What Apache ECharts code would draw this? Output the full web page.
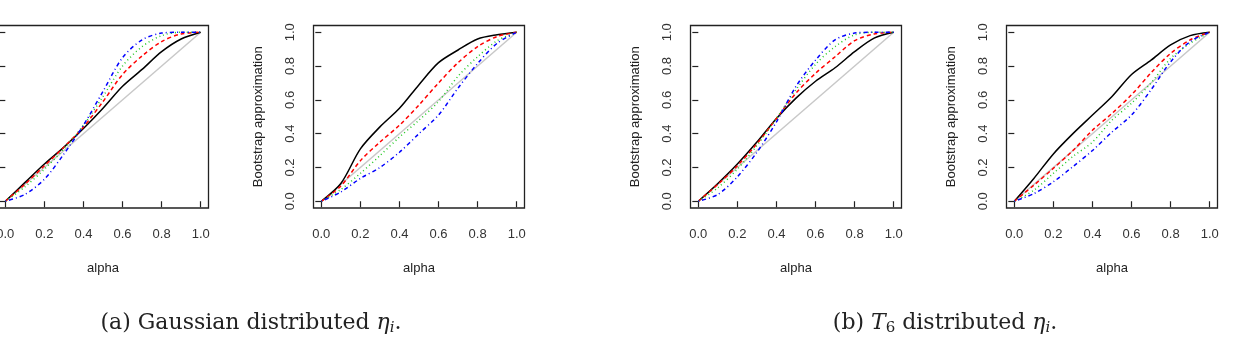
<!DOCTYPE html>
<html>
<head>
<meta charset="utf-8">
<script src="https://cdn.jsdelivr.net/npm/echarts@6/dist/echarts.min.js"></script>
<style>
  html, body { margin: 0; padding: 0; background: #fff; }
  #chart { width: 1236px; height: 338px; }
</style>
</head>
<body>
<div id="chart"></div>
<script>
// alpha grid shared by every panel
const alpha = [0, 0.1, 0.2, 0.3, 0.4, 0.5, 0.6, 0.7, 0.8, 0.9, 1]
const tickValues = [0, 0.2, 0.4, 0.6, 0.8, 1]
const diagonal = [0, 1]

// (a) Gaussian, left panel
const gaussA_black = [0, 0.11, 0.22, 0.32, 0.43, 0.55, 0.68, 0.78, 0.885, 0.96, 1]
const gaussA_red = [0, 0.10, 0.21, 0.32, 0.44, 0.59, 0.75, 0.86, 0.945, 0.99, 1]
const gaussA_green = [0, 0.085, 0.19, 0.31, 0.45, 0.62, 0.80, 0.915, 0.98, 1, 1]
const gaussA_blue = [0, 0.04, 0.13, 0.28, 0.45, 0.65, 0.85, 0.955, 0.995, 1, 1]

// (a) Gaussian, right panel
const gaussB_black = [0, 0.105, 0.31, 0.44, 0.55, 0.69, 0.82, 0.895, 0.96, 0.985, 1]
const gaussB_red = [0, 0.09, 0.24, 0.35, 0.45, 0.57, 0.70, 0.82, 0.915, 0.975, 1]
const gaussB_green = [0, 0.07, 0.165, 0.27, 0.38, 0.48, 0.59, 0.74, 0.855, 0.95, 1]
const gaussB_blue = [0, 0.055, 0.135, 0.20, 0.29, 0.40, 0.51, 0.67, 0.815, 0.935, 1]

// (b) T6, left panel
const tA_black = [0, 0.105, 0.22, 0.35, 0.49, 0.61, 0.71, 0.79, 0.885, 0.965, 1]
const tA_red = [0, 0.10, 0.21, 0.34, 0.49, 0.64, 0.757, 0.855, 0.95, 0.99, 1]
const tA_green = [0, 0.08, 0.19, 0.33, 0.49, 0.66, 0.81, 0.915, 0.985, 1, 1]
const tA_blue = [0, 0.04, 0.145, 0.29, 0.47, 0.68, 0.835, 0.955, 0.995, 1, 1]

// (b) T6, right panel
const tB_black = [0, 0.135, 0.28, 0.40, 0.51, 0.62, 0.75, 0.835, 0.925, 0.98, 1]
const tB_red = [0, 0.095, 0.195, 0.30, 0.42, 0.52, 0.63, 0.76, 0.875, 0.955, 1]
const tB_green = [0, 0.065, 0.165, 0.265, 0.35, 0.48, 0.58, 0.70, 0.845, 0.935, 1]
const tB_blue = [0, 0.045, 0.115, 0.205, 0.30, 0.41, 0.51, 0.66, 0.825, 0.945, 1]

const panels = [
  [gaussA_black, gaussA_red, gaussA_green, gaussA_blue],
  [gaussB_black, gaussB_red, gaussB_green, gaussB_blue],
  [tA_black, tA_red, tA_green, tA_blue],
  [tB_black, tB_red, tB_green, tB_blue]
]

const panelLeft = [-2.5, 313.5, 690.5, 1006.5]
const lineStyles = [
  { color: '#000000', width: 1.5, type: 'solid' },
  { color: '#ff0000', width: 1.5, type: [4, 3] },
  { color: '#22c822', width: 1.5, type: [1, 3] },
  { color: '#0000ff', width: 1.5, type: [1, 3, 4, 3] }
]

const sansFont = 'Liberation Sans, Arial, sans-serif'

const grids = []
const xAxes = []
const yAxes = []
const series = []

panels.forEach((curves, i) => {
  grids.push({
    left: panelLeft[i],
    top: 25.5,
    width: 211,
    height: 182.5,
    containLabel: false,
    outerBoundsMode: 'none',
    show: true,
    borderColor: '#222',
    borderWidth: 1.3,
    backgroundColor: 'transparent'
  })
  xAxes.push({
    gridIndex: i,
    type: 'value',
    min: -0.04,
    max: 1.04,
    axisLine: { show: false },
    splitLine: { show: false },
    axisTick: { show: true, length: 6, customValues: tickValues, lineStyle: { color: '#222', width: 1.2 } },
    axisLabel: {
      customValues: tickValues,
      formatter: (v) => v.toFixed(1),
      margin: 20,
      fontSize: 13,
      color: '#333',
      fontFamily: sansFont
    },
    name: 'alpha',
    nameLocation: 'middle',
    nameGap: 54,
    nameTextStyle: { fontSize: 13, color: '#222', fontFamily: sansFont }
  })
  yAxes.push({
    gridIndex: i,
    type: 'value',
    min: -0.04,
    max: 1.04,
    axisLine: { show: false },
    splitLine: { show: false },
    axisTick: { show: true, length: 6, customValues: tickValues, lineStyle: { color: '#222', width: 1.2 } },
    axisLabel: {
      customValues: tickValues,
      formatter: (v) => v.toFixed(1),
      rotate: 90,
      margin: 17,
      fontSize: 13,
      color: '#333',
      fontFamily: sansFont
    },
    name: 'Bootstrap approximation',
    nameLocation: 'middle',
    nameGap: 49,
    nameTextStyle: { fontSize: 13, color: '#222', fontFamily: sansFont }
  })

  // grey 45 degree reference
  series.push({
    type: 'line',
    xAxisIndex: i,
    yAxisIndex: i,
    data: diagonal.map((v) => [v, v]),
    showSymbol: false,
    silent: true,
    lineStyle: { color: '#c8c8c8', width: 1.5 }
  })
  curves.forEach((vals, k) => {
    series.push({
      type: 'line',
      xAxisIndex: i,
      yAxisIndex: i,
      data: alpha.map((a, j) => [a, vals[j]]),
      showSymbol: false,
      smooth: 0.3,
      silent: true,
      lineStyle: lineStyles[k]
    })
  })
})

const serifFont = 'DejaVu Serif, Liberation Serif, serif'
const captionRich = {
  n: { fontSize: 22, fontFamily: serifFont, fontWeight: 'normal', color: '#222' },
  it: { fontSize: 22, fontFamily: serifFont, fontWeight: 'normal', fontStyle: 'italic', color: '#222' },
  sub: { fontSize: 15, fontFamily: serifFont, fontWeight: 'normal', fontStyle: 'italic', color: '#222', padding: [10, 0, 0, 0] },
  subn: { fontSize: 15, fontFamily: serifFont, fontWeight: 'normal', color: '#222', padding: [10, 0, 0, 0] }
}

const myChart = echarts.init(document.getElementById('chart'), null, { renderer: 'canvas' })
const option = {
  animation: false,
  backgroundColor: '#fff',
  title: [
    {
      text: '{n|(a) Gaussian distributed }{it|η}{sub|i}{n|.}',
      left: 246,
      top: 306,
      textAlign: 'center',
      textStyle: { fontWeight: 'normal', rich: captionRich }
    },
    {
      text: '{n|(b) }{it|T}{subn|6}{n| distributed }{it|η}{sub|i}{n|.}',
      left: 940,
      top: 306,
      textAlign: 'center',
      textStyle: { fontWeight: 'normal', rich: captionRich }
    }
  ],
  grid: grids,
  xAxis: xAxes,
  yAxis: yAxes,
  series: series
}
myChart.setOption(option)
</script>
</body>
</html>
